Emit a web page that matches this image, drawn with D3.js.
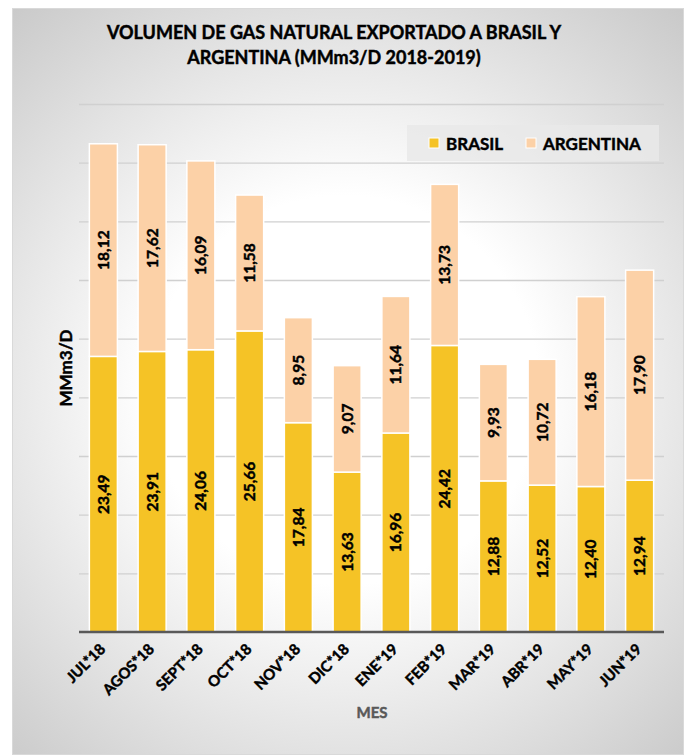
<!DOCTYPE html>
<html>
<head>
<meta charset="utf-8">
<script src="https://cdn.jsdelivr.net/npm/d3@7"></script>
<style>
  html, body { margin: 0; padding: 0; background: #ffffff; }
  svg { display: block; }
  text { font-family: Lato, "Open Sans", sans-serif; font-weight: bold; stroke-width: 0.45px; }
</style>
</head>
<body>
<svg id="chart" width="684" height="755"></svg>
<script>
// ---- data ----
const months = ["JUL*18", "AGOS*18", "SEPT*18", "OCT*18", "NOV*18", "DIC*18",
                "ENE*19", "FEB*19", "MAR*19", "ABR*19", "MAY*19", "JUN*19"];
const brasil = [23.49, 23.91, 24.06, 25.66, 17.84, 13.63, 16.96, 24.42, 12.88, 12.52, 12.40, 12.94];
const argentina = [18.12, 17.62, 16.09, 11.58, 8.95, 9.07, 11.64, 13.73, 9.93, 10.72, 16.18, 17.90];
const seriesNames = ["BRASIL", "ARGENTINA"];
const yTicks = [5, 10, 15, 20, 25, 30, 35, 40, 45];
const titleLines = ["VOLUMEN DE GAS NATURAL EXPORTADO A BRASIL Y", "ARGENTINA (MMm3/D 2018-2019)"];
const yTitle = "MMm3/D";
const xTitle = "MES";

const colors = { BRASIL: "#F5C326", ARGENTINA: "#FCD1A7" };

const svg = d3.select("#chart");
const W = 684, H = 755;

// background gradient
const defs = svg.append("defs");
const grad = defs.append("radialGradient")
  .attr("id", "bg").attr("gradientUnits", "userSpaceOnUse")
  .attr("cx", 345).attr("cy", 390).attr("r", 540);
grad.append("stop").attr("offset", 0).attr("stop-color", "#ffffff");
grad.append("stop").attr("offset", 0.36).attr("stop-color", "#ffffff");
grad.append("stop").attr("offset", 1).attr("stop-color", "#c4c4c4");

svg.append("rect").attr("x", 12.5).attr("y", 8.5).attr("width", W - 13).attr("height", H - 9)
  .attr("fill", "url(#bg)").attr("stroke", "#d9d9d9").attr("stroke-width", 1);

// title
svg.append("g").selectAll("text").data(titleLines).join("text")
  .attr("x", 334).attr("y", (d, i) => 39 + i * 25)
  .attr("text-anchor", "middle").attr("font-size", 18).attr("fill", "#000").attr("stroke", "#000")
  .text(d => d);

// scales
const margin = { left: 79, right: 664, top: 104, bottom: 632 };
const x = d3.scaleBand().domain(months).range([margin.left, margin.right]).paddingInner(0.425).paddingOuter(0.2125);
const y = d3.scaleLinear().domain([0, 45]).range([margin.bottom, margin.top]);

// gridlines
svg.append("g").attr("class", "grid")
  .attr("transform", `translate(${margin.left},0)`)
  .call(d3.axisLeft(y).tickValues(yTicks).tickSize(-(margin.right - margin.left)).tickFormat(""))
  .call(g => g.select(".domain").remove())
  .call(g => g.selectAll("line").attr("stroke", "#d0d0d0").attr("stroke-width", 1.3));

// stacked data
const rows = months.map((m, i) => ({ month: m, BRASIL: brasil[i], ARGENTINA: argentina[i] }));
const stack = d3.stack().keys(seriesNames)(rows);

const fmt = v => d3.format(".2f")(v).replace(".", ",");

const layers = svg.append("g").selectAll("g").data(stack).join("g")
  .attr("fill", d => colors[d.key]);
layers.selectAll("rect").data(d => d).join("rect")
  .attr("x", d => x(d.data.month))
  .attr("width", x.bandwidth())
  .attr("y", d => y(d[1]))
  .attr("height", d => y(d[0]) - y(d[1]))
  .attr("stroke", "#ffffff").attr("stroke-width", 1.5);

// value labels
const labels = svg.append("g");
stack.forEach(layer => {
  labels.selectAll(null).data(layer).join("text")
    .attr("transform", d => `translate(${x(d.data.month) + x.bandwidth() / 2},${(y(d[0]) + y(d[1])) / 2}) rotate(-90)`)
    .attr("text-anchor", "middle").attr("dy", "0.35em")
    .attr("font-size", 15.5).attr("fill", "#000").attr("stroke", "#000")
    .text(d => fmt(d[1] - d[0]));
});

// x axis
const xAxis = svg.append("g").attr("transform", `translate(0,${margin.bottom})`)
  .call(d3.axisBottom(x).tickSize(0).tickPadding(0));
xAxis.select(".domain").attr("stroke", "#595959").attr("stroke-width", 2.5)
  .attr("d", `M${margin.left},0H${margin.right}`);
xAxis.selectAll(".tick text")
  .attr("font-size", 15).attr("fill", "#000").attr("stroke", "#000")
  .attr("text-anchor", "end").attr("font-family", "Lato, sans-serif")
  .attr("y", 0).attr("dy", 0)
  .attr("transform", "translate(3,18) rotate(-45)");

// axis titles
svg.append("text").attr("x", 372).attr("y", 718).attr("text-anchor", "middle")
  .attr("font-size", 15).attr("fill", "#595959").attr("stroke", "#595959").text(xTitle);
svg.append("text").attr("transform", "translate(72,368) rotate(-90)").attr("text-anchor", "middle")
  .attr("font-size", 17).attr("fill", "#000").attr("stroke", "#000").text(yTitle);

// legend
const lg = svg.append("g");
lg.append("rect").attr("x", 407).attr("y", 125).attr("width", 252).attr("height", 36)
  .attr("fill", "#e9e9e9").attr("fill-opacity", 0.85);
const legendX = [429, 526];
seriesNames.forEach((s, i) => {
  lg.append("rect").attr("x", legendX[i]).attr("y", 138).attr("width", 10).attr("height", 10)
    .attr("fill", colors[s]).attr("stroke", "#ffffff").attr("stroke-width", 1);
  lg.append("text").attr("x", legendX[i] + 17).attr("y", 149.5)
    .attr("font-size", 17).attr("fill", "#000").attr("stroke", "#000").text(s);
});
</script>
</body>
</html>
